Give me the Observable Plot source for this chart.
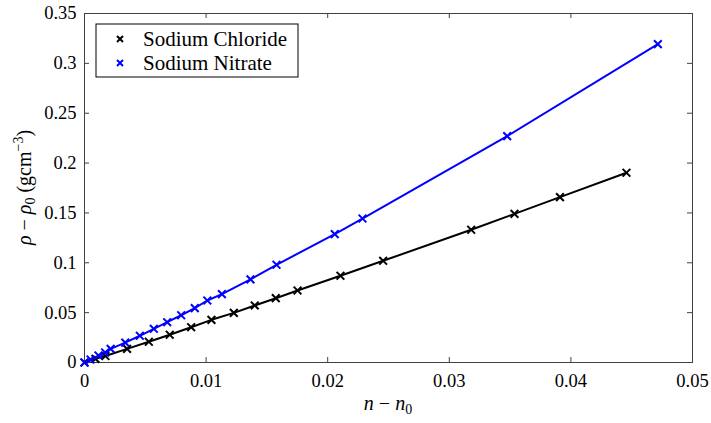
<!DOCTYPE html>
<html>
<head>
<meta charset="utf-8">
<script src="https://cdn.jsdelivr.net/npm/d3@7"></script>
<script src="https://cdn.jsdelivr.net/npm/@observablehq/plot@0.6"></script>
<style>
  html, body { margin: 0; padding: 0; background: #fff; }
  #chart svg { display: block; }
  #chart svg, #chart svg text { font-family: "Liberation Serif", "Liberation Sans", sans-serif !important; }
</style>
</head>
<body>
<div id="chart"></div>
<script>
const seriesNames = ["Sodium Chloride", "Sodium Nitrate"];
const seriesColors = ["#000000", "#0000ff"];

const chlorideN = [0, 0.0009, 0.00172, 0.00350, 0.00529, 0.00701, 0.00877, 0.01044, 0.01228, 0.01400, 0.01573, 0.01752, 0.02105, 0.02456, 0.03180, 0.03536, 0.03910, 0.04457];
const chlorideRho = [0, 0.0036, 0.0065, 0.0137, 0.0208, 0.0278, 0.0354, 0.0428, 0.0498, 0.0572, 0.0645, 0.0722, 0.0870, 0.1020, 0.1331, 0.1491, 0.1658, 0.1903];

const nitrateN = [0, 0.0005, 0.00115, 0.0017, 0.00215, 0.00335, 0.00455, 0.0057, 0.0068, 0.00795, 0.00907, 0.0101, 0.0113, 0.01365, 0.01579, 0.02058, 0.02286, 0.03476, 0.04715];
const nitrateRho = [0, 0.0030, 0.0070, 0.0100, 0.0136, 0.0200, 0.0268, 0.0338, 0.0404, 0.0474, 0.0545, 0.0622, 0.0685, 0.0833, 0.0980, 0.1287, 0.1444, 0.2270, 0.3193];

const xTicks = [0, 0.01, 0.02, 0.03, 0.04, 0.05];
const xTickLabels = ["0", "0.01", "0.02", "0.03", "0.04", "0.05"];
const yTicks = [0, 0.05, 0.1, 0.15, 0.2, 0.25, 0.3, 0.35];
const yTickLabels = ["0", "0.05", "0.1", "0.15", "0.2", "0.25", "0.3", "0.35"];

const chloride = chlorideN.map((n, i) => ({n, rho: chlorideRho[i], series: seriesNames[0]}));
const nitrate = nitrateN.map((n, i) => ({n, rho: nitrateRho[i], series: seriesNames[1]}));

const W = 711, H = 423;
const mL = 84, mR = 19, mT = 13, mB = 61;
const innerW = W - mL - mR, innerH = H - mT - mB;
const tickLen = 5;
const axisColor = "#404040";

const plot = Plot.plot({
  width: W,
  height: H,
  marginLeft: mL, marginRight: mR, marginTop: mT, marginBottom: mB,
  style: {fontSize: "18.5px", color: "#000", background: "#fff"},
  x: {domain: [0, 0.05], label: null},
  y: {domain: [0, 0.35], label: null},
  marks: [
    Plot.frame({stroke: axisColor, strokeWidth: 1}),
    Plot.tickX(xTicks.slice(1, -1), {x: d => d, insetTop: innerH - tickLen, stroke: axisColor}),
    Plot.tickX(xTicks.slice(1, -1), {x: d => d, insetBottom: innerH - tickLen, stroke: axisColor}),
    Plot.tickY(yTicks.slice(1, -1), {y: d => d, insetRight: innerW - tickLen, stroke: axisColor}),
    Plot.tickY(yTicks.slice(1, -1), {y: d => d, insetLeft: innerW - tickLen, stroke: axisColor}),
    Plot.axisX({ticks: xTicks, tickSize: 0, tickPadding: 11, tickFormat: (d, i) => xTickLabels[i], fontSize: 18.5, label: null}),
    Plot.axisY({ticks: yTicks, tickSize: 0, tickPadding: 8, tickFormat: (d, i) => yTickLabels[i], fontSize: 18.5, label: null}),
    Plot.line(chloride, {x: "n", y: "rho", stroke: seriesColors[0], strokeWidth: 2}),
    Plot.line(nitrate, {x: "n", y: "rho", stroke: seriesColors[1], strokeWidth: 2}),
    Plot.dot(chloride, {x: "n", y: "rho", symbol: "times", r: 3.6, stroke: seriesColors[0], strokeWidth: 2}),
    Plot.dot(nitrate, {x: "n", y: "rho", symbol: "times", r: 3.6, stroke: seriesColors[1], strokeWidth: 2})
  ]
});

document.getElementById("chart").appendChild(plot);

const svg = d3.select(plot);

const xl = svg.append("text")
  .attr("x", mL + innerW / 2)
  .attr("y", 410)
  .attr("text-anchor", "middle")
  .attr("font-size", 20)
  .attr("fill", "#000");
xl.append("tspan").attr("font-style", "italic").text("n");
xl.append("tspan").text(" − ");
xl.append("tspan").attr("font-style", "italic").text("n");
xl.append("tspan").attr("font-size", 14).attr("dy", 4).text("0");

const yl = svg.append("text")
  .attr("transform", `translate(31,${mT + innerH / 2}) rotate(-90)`)
  .attr("text-anchor", "middle")
  .attr("font-size", 20)
  .attr("fill", "#000");
yl.append("tspan").attr("font-style", "italic").text("ρ");
yl.append("tspan").text(" − ");
yl.append("tspan").attr("font-style", "italic").text("ρ");
yl.append("tspan").attr("font-size", 14).attr("dy", 4).text("0");
yl.append("tspan").attr("dy", -4).text(" (gcm");
yl.append("tspan").attr("font-size", 14).attr("dy", -8).text("−3");
yl.append("tspan").attr("dy", 8).text(")");

const lg = svg.append("g").attr("transform", `translate(${mL + 12},${mT + 11})`);
lg.append("rect")
  .attr("width", 202).attr("height", 53)
  .attr("fill", "#fff").attr("stroke", "#000").attr("stroke-width", 1);
seriesNames.forEach((name, i) => {
  const cy = 15 + i * 24;
  const cx = 24;
  const s = 3;
  lg.append("path")
    .attr("d", `M${cx - s},${cy - s}L${cx + s},${cy + s}M${cx - s},${cy + s}L${cx + s},${cy - s}`)
    .attr("stroke", seriesColors[i]).attr("stroke-width", 2).attr("fill", "none");
  lg.append("text")
    .attr("x", 47).attr("y", cy)
    .attr("dy", "0.35em")
    .attr("text-anchor", "start")
    .attr("font-size", 21)
    .attr("fill", "#000")
    .text(name);
});
</script>
</body>
</html>
